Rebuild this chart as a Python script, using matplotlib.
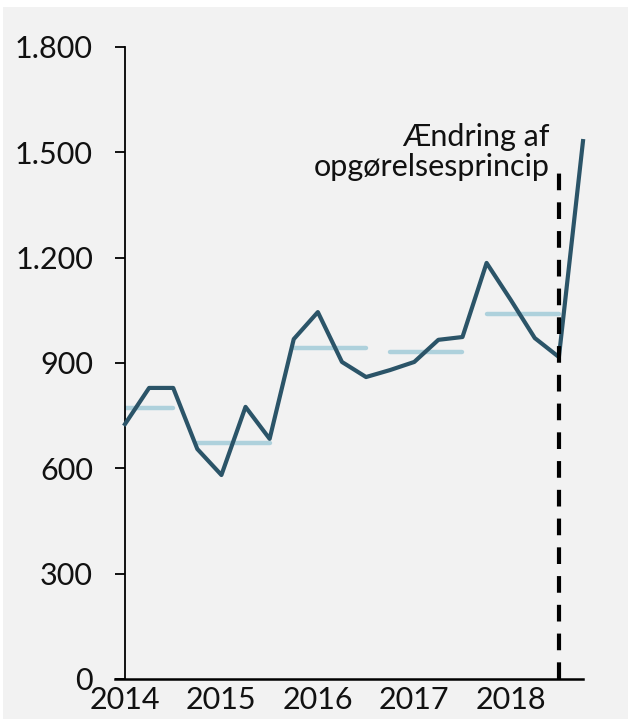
import matplotlib.pyplot as plt
from matplotlib.ticker import FuncFormatter
from matplotlib.patches import Rectangle

# kvartalsværdier 2014K1 - 2018K4
quarters = list(range(20))
values = [726, 829, 829, 655, 581, 775, 684, 968, 1045, 903, 860,
          880, 903, 966, 974, 1185, 1080, 971, 917, 1532]

# årsgennemsnit (start-, slutkvartal, niveau)
avg_start = [0, 3, 7, 11, 15]
avg_end = [2, 6, 10, 14, 18]
avg_level = [772, 672, 943, 931, 1040]

years = ['2014', '2015', '2016', '2017', '2018']
year_pos = [0, 4, 8, 12, 16]
break_pos = 18
break_top = 1460

plt.rcParams['font.family'] = ['Lato', 'DejaVu Sans']

fig = plt.figure(figsize=(6.28, 7.19), dpi=100)
fig.patch.set_facecolor('white')
fig.patches.append(Rectangle((3 / 628, 0), 1, 1 - 7 / 719, transform=fig.transFigure,
                             facecolor='#f2f2f2', edgecolor='none', zorder=-1))
ax = fig.add_axes([125 / 628, 40 / 719, 458 / 628, 632 / 719])
ax.set_facecolor('#f2f2f2')

for s, e, v in zip(avg_start, avg_end, avg_level):
    ax.plot([s, e], [v, v], color='#aed1dc', lw=3.2, solid_capstyle='round', zorder=2)

ax.plot(quarters, values, color='#2b5468', lw=3.0, zorder=3, clip_on=False)
ax.plot([break_pos, break_pos], [0, break_top], color='black', lw=3, ls=(0, (4, 2.9)), zorder=4,
        clip_on=False)
ax.text(break_pos - 0.4, 1500, 'Ændring af\nopgørelsesprincip', ha='right', va='center',
        fontsize=22, linespacing=1.1, color='#111111')

ax.set_xlim(0, 19)
ax.set_ylim(0, 1800)
ax.set_yticks(range(0, 1801, 300))
ax.yaxis.set_major_formatter(FuncFormatter(lambda v, p: f'{int(v):,}'.replace(',', '.')))
ax.set_xticks(year_pos)
ax.set_xticklabels(years)
ax.tick_params(axis='y', length=7, width=1.3, pad=16, labelsize=22, labelcolor='#111111')
ax.tick_params(axis='x', length=0, pad=5, labelsize=22, labelcolor='#111111')
for side in ['top', 'right']:
    ax.spines[side].set_visible(False)
ax.spines['left'].set_linewidth(1.3)
ax.spines['bottom'].set_linewidth(1.8)
ax.spines['bottom'].set_bounds(-0.4, 19)

plt.savefig('out.png', dpi=100)
